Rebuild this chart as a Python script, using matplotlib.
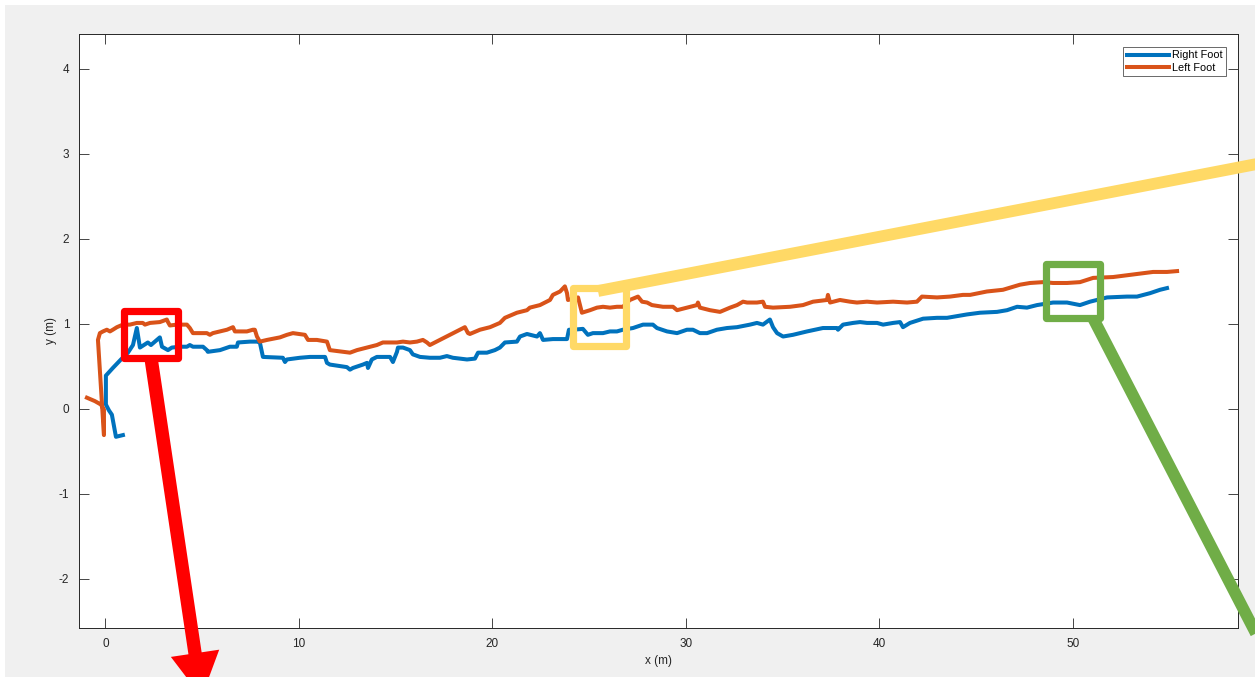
import matplotlib
matplotlib.use('Agg')
import matplotlib.pyplot as plt
from matplotlib.patches import Rectangle, FancyArrowPatch
from matplotlib.lines import Line2D

plt.rcParams['font.family'] = ['Liberation Sans', 'DejaVu Sans']
plt.rcParams['axes.unicode_minus'] = False

# right foot trajectory (m)
right_x = [0.90, 0.54, 0.33, 0.18, 0.02, 0.02, 0.38, 0.80, 1.16, 1.42, 1.62, 1.78, 2.19, 2.35, 2.81,
           2.92, 3.23, 3.43, 3.85, 4.21, 4.36, 4.52, 5.04, 5.24, 5.29, 5.92, 6.43, 6.79, 6.85, 7.47,
           7.83, 7.98, 8.09, 8.14, 9.17, 9.28, 9.38, 10.05, 10.57, 11.35, 11.45, 11.60, 12.48, 12.64,
           12.79, 13.31, 13.52, 13.57, 13.77, 14.03, 14.71, 14.86, 15.07, 15.12, 15.38, 15.74, 15.89,
           16.26, 16.77, 17.29, 17.65, 17.96, 18.69, 19.10, 19.26, 19.72, 20.13, 20.39, 20.65, 21.27,
           21.43, 21.79, 22.31, 22.46, 22.62, 23.13, 23.86, 23.96, 24.17, 24.68, 24.94, 25.20, 25.72,
           26.08, 26.44, 26.75, 27.27, 27.79, 28.30, 28.51, 29.03, 29.55, 30.06, 30.37, 30.73, 31.10,
           31.61, 32.13, 32.65, 33.32, 33.68, 33.99, 34.35, 34.51, 34.72, 35.03, 35.54, 36.27, 37.09,
           37.82, 37.87, 38.13, 38.65, 39.01, 39.37, 39.89, 40.20, 40.72, 41.08, 41.23, 41.59, 42.27,
           42.99, 43.51, 44.54, 45.21, 46.09, 46.61, 47.13, 47.64, 48.16, 48.99, 49.71, 50.38, 50.90,
           51.78, 52.81, 53.33, 54.00, 54.52, 54.88]
right_y = [-0.31, -0.33, -0.07, -0.02, 0.05, 0.39, 0.48, 0.58, 0.66, 0.75, 0.95, 0.72, 0.78, 0.75, 0.84,
           0.73, 0.69, 0.72, 0.73, 0.73, 0.75, 0.73, 0.73, 0.69, 0.67, 0.69, 0.73, 0.73, 0.78, 0.79,
           0.79, 0.78, 0.66, 0.61, 0.60, 0.55, 0.58, 0.60, 0.61, 0.61, 0.54, 0.52, 0.49, 0.46,
           0.48, 0.52, 0.54, 0.48, 0.58, 0.61, 0.61, 0.55, 0.67, 0.72, 0.72, 0.69, 0.64,
           0.61, 0.60, 0.60, 0.62, 0.60, 0.58, 0.59, 0.66, 0.66, 0.69, 0.72, 0.78, 0.79,
           0.85, 0.88, 0.85, 0.89, 0.81, 0.82, 0.82, 0.93, 0.93, 0.94, 0.87, 0.89, 0.89,
           0.91, 0.91, 0.93, 0.95, 0.99, 0.99, 0.95, 0.91, 0.89, 0.93, 0.93, 0.89, 0.89,
           0.93, 0.95, 0.96, 0.99, 1.01, 0.99, 1.05, 0.96, 0.89, 0.85, 0.87, 0.91, 0.95,
           0.95, 0.93, 0.99, 1.01, 1.02, 1.01, 1.01, 0.99, 1.01, 1.02, 0.96, 1.01, 1.06,
           1.07, 1.07, 1.11, 1.13, 1.14, 1.16, 1.20, 1.19, 1.22, 1.25, 1.25, 1.22, 1.26,
           1.31, 1.32, 1.32, 1.36, 1.40, 1.42]

# left foot trajectory (m)
left_x = [-0.96, -0.55, -0.24, -0.08, -0.08, -0.39, -0.29, -0.13, 0.07, 0.23, 0.38, 0.59, 0.90, 1.26,
          1.62, 1.93, 2.04, 2.30, 2.81, 3.17, 3.23, 3.33, 3.69, 4.21, 4.36, 4.52, 4.88, 5.24, 5.40,
          5.55, 5.92, 6.28, 6.59, 6.69, 7.31, 7.62, 7.72, 7.83, 7.98, 8.35, 9.02, 9.38, 9.69, 10.31,
          10.47, 10.93, 11.45, 11.60, 12.28, 12.64, 13.00, 13.52, 14.03, 14.34, 15.07, 15.38, 15.74,
          16.10, 16.41, 16.62, 16.77, 17.29, 17.81, 18.32, 18.58, 18.74, 18.84, 19.36, 19.88, 20.39,
          20.65, 21.27, 21.79, 21.94, 22.46, 22.98, 23.13, 23.50, 23.75, 23.86, 23.91, 24.43, 24.63,
          25.05, 25.41, 25.72, 26.08, 26.44, 26.75, 27.11, 27.53, 27.74, 28.00, 28.25, 28.82, 29.34,
          29.55, 30.06, 30.58, 30.63, 30.73, 31.25, 31.77, 32.29, 32.65, 32.96, 33.17, 33.68, 33.99,
          34.10, 34.51, 35.39, 36.06, 36.58, 37.30, 37.35, 37.46, 37.97, 38.49, 38.85, 39.37, 39.89,
          40.72, 41.44, 41.95, 42.21, 42.99, 43.66, 44.33, 44.70, 45.57, 46.40, 47.28, 47.80, 48.47,
          48.99, 49.71, 50.38, 51.06, 52.09, 53.12, 54.16, 54.88, 55.40]
left_y = [0.13, 0.09, 0.05, -0.01, -0.31, 0.81, 0.89, 0.91, 0.93, 0.91, 0.93, 0.96, 0.99, 0.99,
          1.01, 1.01, 0.99, 1.01, 1.02, 1.05, 1.02, 0.98, 0.99, 0.99, 0.95, 0.89, 0.89, 0.89, 0.87,
          0.89, 0.91, 0.93, 0.96, 0.91, 0.91, 0.93, 0.93, 0.85, 0.79, 0.81, 0.84, 0.87, 0.89, 0.87,
          0.81, 0.81, 0.79, 0.69, 0.67, 0.66, 0.69, 0.72, 0.75, 0.78, 0.78, 0.79, 0.78,
          0.79, 0.81, 0.78, 0.75, 0.81, 0.87, 0.93, 0.96, 0.89, 0.88, 0.93, 0.96, 1.01,
          1.07, 1.13, 1.16, 1.19, 1.22, 1.28, 1.34, 1.38, 1.44, 1.36, 1.28, 1.31, 1.13,
          1.16, 1.19, 1.20, 1.19, 1.20, 1.20, 1.28, 1.32, 1.26, 1.25, 1.22, 1.20, 1.20,
          1.16, 1.19, 1.22, 1.25, 1.19, 1.16, 1.14, 1.19, 1.22, 1.26, 1.25, 1.25, 1.26,
          1.20, 1.19, 1.20, 1.22, 1.26, 1.28, 1.34, 1.25, 1.28, 1.26, 1.25, 1.26, 1.25,
          1.26, 1.25, 1.26, 1.32, 1.31, 1.32, 1.34, 1.34, 1.38, 1.40, 1.46, 1.48, 1.49,
          1.48, 1.48, 1.49, 1.54, 1.55, 1.58, 1.61, 1.61, 1.62]

labels = ['Right Foot', 'Left Foot']
xticks = [0, 10, 20, 30, 40, 50]
yticks = [-2, -1, 0, 1, 2, 3, 4]

W, H = 1255, 677
dark = '#262626'


def px(x, y):
    # screen pixel -> figure fraction
    return (x / W, 1 - y / H)


fig = plt.figure(figsize=(12.55, 6.77), dpi=100, facecolor='#f0f0f0')
# thin white margin of the screenshot
fig.add_artist(Rectangle((0, 0), 5 / W, 1, transform=fig.transFigure, color='white', lw=0))
fig.add_artist(Rectangle((0, 1 - 5 / H), 1, 5 / H, transform=fig.transFigure, color='white', lw=0))

ax = fig.add_axes([79 / W, 49 / H, (1238 - 79) / W, (628 - 34) / H])
ax.plot(right_x, right_y, color='#0072BD', lw=2.9, label=labels[0])
ax.plot(left_x, left_y, color='#D95319', lw=2.9, label=labels[1])
ax.set_xlim(-1.37, 58.55)
ax.set_ylim(-2.58, 4.41)
ax.set_xticks(xticks)
ax.set_yticks(yticks)
ax.tick_params(direction='in', top=True, right=True, length=7, width=0.6, colors=dark,
               labelsize=8.5, pad=7)
for s in ax.spines.values():
    s.set_color(dark)
    s.set_linewidth(0.7)
ax.set_xlabel('x (m)', fontsize=8.5, color=dark, labelpad=4)
ax.set_ylabel('y (m)', fontsize=8.5, color=dark, labelpad=1)

leg = ax.legend(loc='upper right', bbox_to_anchor=(0.9896, 0.978), borderaxespad=0,
                fontsize=7.8, frameon=True, fancybox=False, handlelength=3.9,
                handletextpad=0.3, borderpad=0.3, labelspacing=0.25)
leg.get_frame().set_edgecolor(dark)
leg.get_frame().set_linewidth(0.6)

# callout boxes and pointers
red, yellow, green = '#FF0000', '#FFD966', '#70AD47'
boxes = [(124, 311, 54, 47, red), (573, 288, 53, 58, yellow), (1046, 264, 54, 54, green)]
for bx, by, bw, bh, c in boxes:
    fig.add_artist(Rectangle(px(bx, by + bh), bw / W, bh / H, transform=fig.transFigure,
                             fill=False, ec=c, lw=5.2, joinstyle='round'))

fig.add_artist(Line2D([598 / W, 1262 / W], [1 - 291 / H, 1 - 163 / H], transform=fig.transFigure,
                      color=yellow, lw=8.5, solid_capstyle='butt'))
fig.add_artist(Line2D([1093 / W, 1262 / W], [1 - 318 / H, 1 - 645 / H], transform=fig.transFigure,
                      color=green, lw=8.5, solid_capstyle='butt'))
fig.add_artist(FancyArrowPatch(px(151, 358), px(202, 700), transform=fig.transFigure,
                               arrowstyle='simple,head_width=2.2,head_length=2.0,tail_width=0.6',
                               mutation_scale=16, color=red, lw=0))

fig.savefig('out.png', dpi=100, facecolor=fig.get_facecolor())
